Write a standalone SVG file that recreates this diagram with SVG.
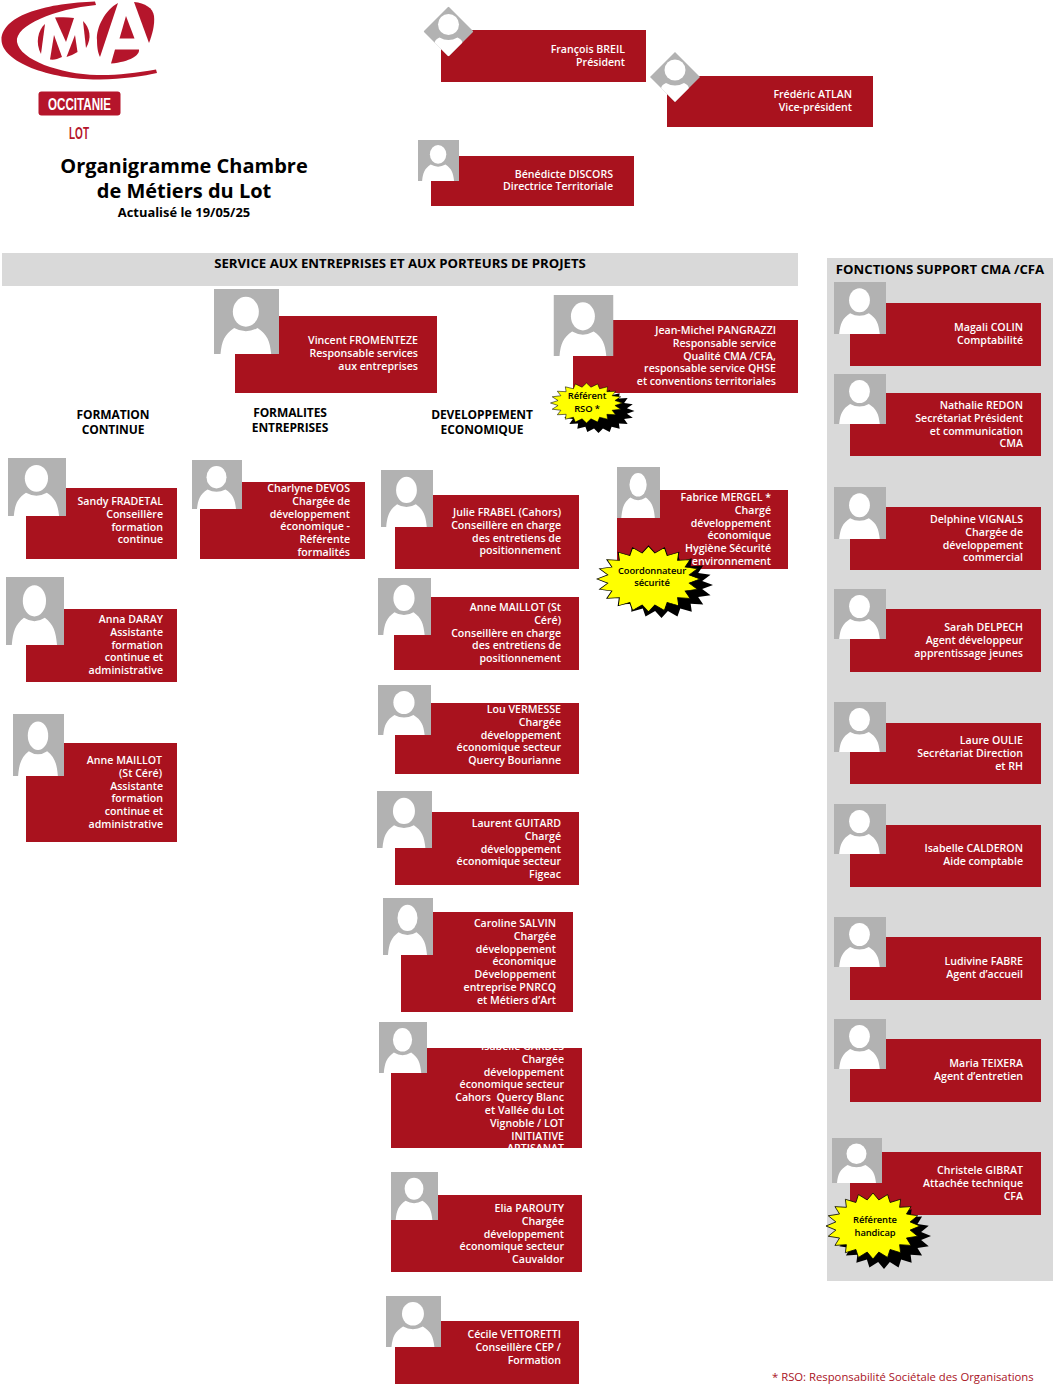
<svg xmlns="http://www.w3.org/2000/svg" width="1055" height="1392" viewBox="0 0 1055 1392">
<style>
text{font-family:"Open Sans","Noto Sans","Liberation Sans",sans-serif}
.box{fill:#a9121e}
.n{fill:#fff;font-size:10.6px;font-weight:600;text-anchor:end}
.h{fill:#000;font-size:12px;font-weight:700;text-anchor:middle;letter-spacing:-.1px}
.hb{font-size:13.2px;letter-spacing:0}
.s{fill:#000;font-size:9.4px;font-weight:600;text-anchor:middle;letter-spacing:-.1px}
.band{fill:#d9d9d9}
.logo{fill:#b5152b}
.gray{fill:#b2b2b2}
.white{fill:#fff}
.sy{fill:#ff0;stroke:#000;stroke-width:1;vector-effect:non-scaling-stroke}
.sk{fill:#000}
</style>
<defs>
<symbol id="av" viewBox="0 0 100 100" preserveAspectRatio="none">
<rect width="100" height="100" class="gray"/>
<ellipse cx="49" cy="35" rx="20" ry="23" class="white"/>
<path class="white" d="M10,100C12,80 16,70 31,60Q49,70 67,60C82,70 86,80 88,100Z"/>
</symbol>
<symbol id="di" viewBox="-25 -25 50 50">
<clipPath id="dc"><polygon points="0,-25 25,0 0,25 -25,0"/></clipPath>
<g clip-path="url(#dc)">
<rect x="-25" y="-25" width="50" height="50" class="gray"/>
<circle cx="0" cy="-7" r="10.500" class="white"/>
<path class="white" d="M-14,25V12Q-14,8 -9,6Q0,11 9,6Q14,8 14,12V25Z"/>
</g>
</symbol>
<polygon id="st" points="50,0 39.5,6.2 47.6,15.5 35.6,18.2 40.5,29.4 28.3,28.3 29.4,40.5 18.2,35.6 15.5,47.6 6.2,39.5 0,50 -6.2,39.5 -15.5,47.6 -18.2,35.6 -29.4,40.5 -28.3,28.3 -40.5,29.4 -35.6,18.2 -47.6,15.5 -39.5,6.2 -50,0 -39.5,-6.2 -47.6,-15.5 -35.6,-18.2 -40.5,-29.4 -28.3,-28.3 -29.4,-40.5 -18.2,-35.6 -15.5,-47.6 -6.2,-39.5 0,-50 6.2,-39.5 15.5,-47.6 18.2,-35.6 29.4,-40.5 28.3,-28.3 40.5,-29.4 35.6,-18.2 47.6,-15.5 39.5,-6.2"/>
<clipPath id="clipIsa"><rect x="391" y="1048" width="191" height="100"/></clipPath>
</defs>

<g id="logo">
<path class="logo" d="M95,1.500C50,3 2,14 1.500,40C2,62 50,80 100,79.500C122,79 145,76 157,73L156,69.500C135,73 115,75.500 97,75C60,74 20,60 17,42C15,25 55,9 96,5Z"/>
<path class="logo" d="M45,24C38,30 35,43 41,54Z"/>
<path class="logo" d="M55,17.500C62,17 68,17 74,18L66,42Z"/>
<path class="logo" d="M54,35L50,59.500C54,60 58,59 62,57Z"/>
<path class="logo" d="M75,35L66.500,57C70,56 74,54 77.500,52Z"/>
<path class="logo" d="M83,21C90,28 92,38 86,48Z"/>
<path class="logo" d="M118,3C105,10 96,28 97,40C97,48 98,53 100,57Z"/>
<path class="logo" d="M134,2C145,3 153,8 154,16C155,25 152,35 149,43Z"/>
<path class="logo" d="M126,16L134.500,38.500L119.500,38.500Z"/>
<path class="logo" d="M115,49.500L139,49.500C140,55 130,62 111,63.500Z"/>
<rect class="logo" x="38.500" y="91.500" width="82" height="24" rx="3"/>
<text x="48" y="109.500" font-size="17" font-weight="700" fill="#fff" textLength="63" lengthAdjust="spacingAndGlyphs" style="font-family:'Liberation Sans',sans-serif">OCCITANIE</text>
<text x="69" y="139" font-size="16" font-weight="700" fill="#b5152b" textLength="20" lengthAdjust="spacingAndGlyphs" style="font-family:'Liberation Sans',sans-serif">LOT</text>
</g>

<g id="title">
<text x="184" y="173" font-size="20px" font-weight="700" text-anchor="middle">Organigramme Chambre</text>
<text x="184" y="198" font-size="20px" font-weight="700" text-anchor="middle">de Métiers du Lot</text>
<text x="184" y="217" font-size="12.900px" font-weight="700" text-anchor="middle">Actualisé le 19/05/25</text>
</g>

<g id="bands">
<rect class="band" x="2" y="253" width="796" height="33"/>
<text class="h hb" x="400" y="268">SERVICE AUX ENTREPRISES ET AUX PORTEURS DE PROJETS</text>
<rect class="band" x="827" y="258" width="226" height="1023"/>
<text class="h hb" x="940" y="274">FONCTIONS SUPPORT CMA /CFA</text>
</g>

<g id="sections">
<text class="h" x="113" y="418.500">FORMATION<tspan x="113" dy="15">CONTINUE</tspan></text>
<text class="h" x="290" y="416.500">FORMALITES<tspan x="290" dy="15">ENTREPRISES</tspan></text>
<text class="h" x="482" y="418.500">DEVELOPPEMENT<tspan x="482" dy="15">ECONOMIQUE</tspan></text>
</g>

<g id="n-breil"><rect class="box" x="441" y="30" width="205" height="52"/><use href="#di" x="423.500" y="6.500" width="50" height="50"/>
<text class="n" x="625" y="53">François BREIL<tspan x="625" dy="13">Président</tspan></text></g>
<g id="n-atlan"><rect class="box" x="667" y="76" width="206" height="51"/><use href="#di" x="650" y="52" width="50" height="50"/>
<text class="n" x="852" y="98">Frédéric ATLAN<tspan x="852" dy="13">Vice-président</tspan></text></g>
<g id="n-discors"><rect class="box" x="431" y="156" width="203" height="50"/><use href="#av" x="418" y="140" width="41" height="41"/>
<text class="n" x="613" y="178">Bénédicte DISCORS<tspan x="613" dy="12">Directrice Territoriale</tspan></text></g>

<g id="n-fromenteze"><rect class="box" x="235" y="316" width="202" height="77"/><use href="#av" x="214" y="289" width="65" height="65"/>
<text class="n" x="418" y="344">Vincent FROMENTEZE<tspan x="418" dy="13">Responsable services</tspan><tspan x="418" dy="13">aux entreprises</tspan></text></g>
<g id="n-pangrazzi"><rect class="box" x="573" y="320" width="225" height="73"/><use href="#av" x="553.500" y="295" width="60" height="61"/>
<text class="n" x="776" y="334">Jean-Michel PANGRAZZI<tspan x="776" dy="12.8">Responsable service</tspan><tspan x="776" dy="12.8">Qualité CMA /CFA,</tspan><tspan x="776" dy="12.8">responsable service QHSE</tspan><tspan x="776" dy="12.8">et conventions territoriales</tspan></text></g>

<g id="n-fradetal"><rect class="box" x="26" y="488" width="151" height="71"/><use href="#av" x="8" y="458" width="58" height="58"/>
<text class="n" x="163" y="505">Sandy FRADETAL<tspan x="163" dy="12.8">Conseillère</tspan><tspan x="163" dy="12.8">formation</tspan><tspan x="163" dy="12.8">continue</tspan></text></g>
<g id="n-daray"><rect class="box" x="26" y="609" width="151" height="73"/><use href="#av" x="6" y="577" width="58" height="68"/>
<text class="n" x="163" y="623">Anna DARAY<tspan x="163" dy="12.8">Assistante</tspan><tspan x="163" dy="12.8">formation</tspan><tspan x="163" dy="12.8">continue et</tspan><tspan x="163" dy="12.8">administrative</tspan></text></g>
<g id="n-maillot1"><rect class="box" x="26" y="743" width="151" height="99"/><use href="#av" x="13" y="714" width="51" height="62"/>
<text class="n" x="162" y="764">Anne MAILLOT<tspan x="162" dy="12.8">(St Céré)</tspan><tspan x="163" dy="12.8">Assistante</tspan><tspan x="163" dy="12.8">formation</tspan><tspan x="163" dy="12.8">continue et</tspan><tspan x="163" dy="12.8">administrative</tspan></text></g>

<g id="n-devos"><rect class="box" x="200" y="482" width="165" height="77"/><use href="#av" x="192" y="460" width="50" height="49"/>
<text class="n" x="350" y="492">Charlyne DEVOS<tspan x="350" dy="12.8">Chargée de</tspan><tspan x="350" dy="12.8">développement</tspan><tspan x="350" dy="12.8">économique -</tspan><tspan x="350" dy="12.8">Référente</tspan><tspan x="350" dy="12.8">formalités</tspan></text></g>

<g id="n-frabel"><rect class="box" x="395" y="495" width="184" height="74"/><use href="#av" x="381" y="470" width="52" height="57"/>
<text class="n" x="561" y="516">Julie FRABEL (Cahors)<tspan x="561" dy="12.8">Conseillère en charge</tspan><tspan x="561" dy="12.8">des entretiens de</tspan><tspan x="561" dy="12.8">positionnement</tspan></text></g>
<g id="n-mergel"><rect class="box" x="617" y="490" width="171" height="79"/><use href="#av" x="617" y="467" width="43" height="51"/>
<text class="n" x="771" y="501">Fabrice MERGEL *<tspan x="771" dy="12.8">Chargé</tspan><tspan x="771" dy="12.8">développement</tspan><tspan x="771" dy="12.8">économique</tspan><tspan x="771" dy="12.8">Hygiène Sécurité</tspan><tspan x="771" dy="12.8">environnement</tspan></text></g>
<g id="n-maillot2"><rect class="box" x="394" y="597" width="185" height="73"/><use href="#av" x="378" y="578" width="53" height="57"/>
<text class="n" x="561" y="611">Anne MAILLOT (St<tspan x="561" dy="12.8">Céré)</tspan><tspan x="561" dy="12.8">Conseillère en charge</tspan><tspan x="561" dy="12.8">des entretiens de</tspan><tspan x="561" dy="12.8">positionnement</tspan></text></g>
<g id="n-vermesse"><rect class="box" x="395" y="703" width="184" height="71"/><use href="#av" x="378" y="685" width="53" height="50"/>
<text class="n" x="561" y="713">Lou VERMESSE<tspan x="561" dy="12.8">Chargée</tspan><tspan x="561" dy="12.8">développement</tspan><tspan x="561" dy="12.8">économique secteur</tspan><tspan x="561" dy="12.8">Quercy Bourianne</tspan></text></g>
<g id="n-guitard"><rect class="box" x="395" y="812" width="184" height="73"/><use href="#av" x="377" y="791" width="55" height="57"/>
<text class="n" x="561" y="827">Laurent GUITARD<tspan x="561" dy="12.8">Chargé</tspan><tspan x="561" dy="12.8">développement</tspan><tspan x="561" dy="12.8">économique secteur</tspan><tspan x="561" dy="12.8">Figeac</tspan></text></g>
<g id="n-salvin"><rect class="box" x="401" y="912" width="172" height="100"/><use href="#av" x="383" y="898" width="50" height="57"/>
<text class="n" x="556" y="927">Caroline SALVIN<tspan x="556" dy="12.8">Chargée</tspan><tspan x="556" dy="12.8">développement</tspan><tspan x="556" dy="12.8">économique</tspan><tspan x="556" dy="12.8">Développement</tspan><tspan x="556" dy="12.8">entreprise PNRCQ</tspan><tspan x="556" dy="12.8">et Métiers d’Art</tspan></text></g>
<g id="n-gardes"><rect class="box" x="391" y="1048" width="191" height="100"/><use href="#av" x="379" y="1022" width="48" height="51"/>
<text class="n" x="564" y="1050" clip-path="url(#clipIsa)" xml:space="preserve">Isabelle GARDES<tspan x="564" dy="12.8">Chargée</tspan><tspan x="564" dy="12.8">développement</tspan><tspan x="564" dy="12.8">économique secteur</tspan><tspan x="564" dy="12.8">Cahors  Quercy Blanc</tspan><tspan x="564" dy="12.8">et Vallée du Lot</tspan><tspan x="564" dy="12.8">Vignoble / LOT</tspan><tspan x="564" dy="12.8">INITIATIVE</tspan><tspan x="564" dy="12.8">ARTISANAT</tspan></text></g>
<g id="n-parouty"><rect class="box" x="391" y="1195" width="191" height="77"/><use href="#av" x="391" y="1172" width="47" height="48"/>
<text class="n" x="564" y="1212">Elia PAROUTY<tspan x="564" dy="12.8">Chargée</tspan><tspan x="564" dy="12.8">développement</tspan><tspan x="564" dy="12.8">économique secteur</tspan><tspan x="564" dy="12.8">Cauvaldor</tspan></text></g>
<g id="n-vettoretti"><rect class="box" x="395" y="1321" width="184" height="63"/><use href="#av" x="386" y="1296" width="55" height="51"/>
<text class="n" x="561" y="1338">Cécile VETTORETTI<tspan x="561" dy="12.8">Conseillère CEP /</tspan><tspan x="561" dy="12.8">Formation</tspan></text></g>

<g id="n-colin"><rect class="box" x="850" y="303" width="191" height="63"/><use href="#av" x="834" y="282" width="52" height="52"/>
<text class="n" x="1023" y="331">Magali COLIN<tspan x="1023" dy="12.8">Comptabilité</tspan></text></g>
<g id="n-redon"><rect class="box" x="850" y="393" width="191" height="63"/><use href="#av" x="834" y="374" width="52" height="50"/>
<text class="n" x="1023" y="409">Nathalie REDON<tspan x="1023" dy="12.8">Secrétariat Président</tspan><tspan x="1023" dy="12.8">et communication</tspan><tspan x="1023" dy="12.8">CMA</tspan></text></g>
<g id="n-vignals"><rect class="box" x="850" y="507" width="191" height="63"/><use href="#av" x="834" y="487" width="52" height="52"/>
<text class="n" x="1023" y="523">Delphine VIGNALS<tspan x="1023" dy="12.8">Chargée de</tspan><tspan x="1023" dy="12.8">développement</tspan><tspan x="1023" dy="12.8">commercial</tspan></text></g>
<g id="n-delpech"><rect class="box" x="850" y="609" width="191" height="63"/><use href="#av" x="834" y="589" width="52" height="50"/>
<text class="n" x="1023" y="631">Sarah DELPECH<tspan x="1023" dy="12.8">Agent développeur</tspan><tspan x="1023" dy="12.8">apprentissage jeunes</tspan></text></g>
<g id="n-oulie"><rect class="box" x="850" y="723" width="191" height="61"/><use href="#av" x="834" y="702" width="52" height="50"/>
<text class="n" x="1023" y="744">Laure OULIE<tspan x="1023" dy="12.8">Secrétariat Direction</tspan><tspan x="1023" dy="12.8">et RH</tspan></text></g>
<g id="n-calderon"><rect class="box" x="850" y="825" width="191" height="62"/><use href="#av" x="834" y="804" width="52" height="50"/>
<text class="n" x="1023" y="852">Isabelle CALDERON<tspan x="1023" dy="12.8">Aide comptable</tspan></text></g>
<g id="n-fabre"><rect class="box" x="850" y="937" width="191" height="63"/><use href="#av" x="834" y="917" width="52" height="50"/>
<text class="n" x="1023" y="965">Ludivine FABRE<tspan x="1023" dy="12.8">Agent d’accueil</tspan></text></g>
<g id="n-teixera"><rect class="box" x="850" y="1039" width="191" height="63"/><use href="#av" x="834" y="1019" width="52" height="50"/>
<text class="n" x="1023" y="1067">Maria TEIXERA<tspan x="1023" dy="12.8">Agent d’entretien</tspan></text></g>
<g id="n-gibrat"><rect class="box" x="850" y="1152" width="191" height="63"/><use href="#av" x="832" y="1138" width="50" height="45"/>
<text class="n" x="1023" y="1174">Christele GIBRAT<tspan x="1023" dy="12.8">Attachée technique</tspan><tspan x="1023" dy="12.8">CFA</tspan></text></g>

<g id="star-rso">
<use href="#st" class="sk" transform="translate(598.500 411) scale(.72 .44)"/>
<use href="#st" class="sy" transform="translate(586.500 403) scale(.72 .4)"/>
<text class="s" x="587" y="399">Référent<tspan x="587" dy="13">RSO *</tspan></text>
</g>
<g id="star-securite">
<use href="#st" class="sk" transform="translate(661.500 585) scale(1.03 .66)"/>
<use href="#st" class="sy" transform="translate(648.500 579) scale(1.03 .66)"/>
<text class="s" x="652" y="574">Coordonnateur<tspan x="652" dy="12">sécurité</tspan></text>
</g>
<g id="star-handicap">
<use href="#st" class="sk" transform="translate(884 1236) scale(.94 .66)"/>
<use href="#st" class="sy" transform="translate(873 1226) scale(.94 .66)"/>
<text class="s" x="875" y="1223">Référente<tspan x="875" dy="13">handicap</tspan></text>
</g>

<text id="note" x="772" y="1381" font-size="11.300px" fill="#a9121e">* RSO: Responsabilité Sociétale des Organisations</text>
</svg>
